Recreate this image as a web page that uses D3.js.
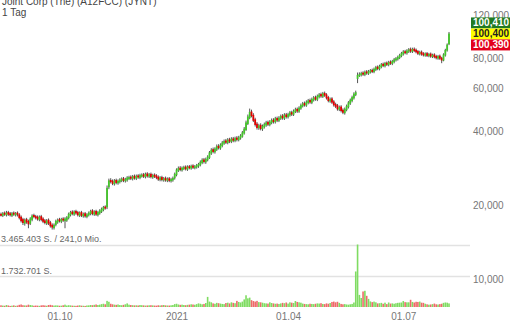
<!DOCTYPE html>
<html>
<head>
<meta charset="utf-8">
<script src="https://cdn.jsdelivr.net/npm/d3@7"></script>
<style>
  body { margin: 0; background: #fff; }
  svg { display: block; font-family: "Liberation Sans", Arial, sans-serif; }
</style>
</head>
<body>
<script>
// Joint Corp daily candles, 17.08.2020 - 06.08.2021 (one value per trading day)
const titleText = "Joint Corp (The) (A12FCC) (JYNT)";
const periodText = "1 Tag";
const holidays = ["2020-09-07", "2020-11-26", "2020-12-25", "2021-01-01", "2021-01-18",
    "2021-02-15", "2021-04-02", "2021-05-31", "2021-07-05"];

const opens = [
    18.4,18.2,18.6,18.3,18.7,18.5,18.2,18.6,18.3,18.6,
    18.3,17.9,17.5,16.9,17.5,17.2,16.9,17.5,18.2,18.0,
    17.9,17.5,18.0,17.6,17.3,16.9,17.4,17.0,16.6,16.2,
    16.7,17.1,17.5,17.2,17.6,17.3,17.4,17.8,18.3,18.8,
    18.4,18.9,18.7,18.2,18.7,18.1,18.5,18.0,18.3,18.5,
    19.0,18.4,18.9,18.3,18.6,18.9,19.2,19.7,19.7,23.8,
    25.3,25.1,24.5,25.3,24.7,25.0,25.3,25.7,25.2,25.4,
    25.8,26.1,25.7,26.3,25.8,26.4,26.0,26.4,26.7,26.2,
    26.9,26.3,26.8,26.1,26.6,26.4,26.1,25.5,26.0,25.4,
    25.8,25.3,25.7,25.2,25.4,25.9,26.7,27.8,28.4,27.9,
    28.3,28.7,28.1,28.8,28.4,29.0,28.5,28.7,29.0,29.3,
    29.9,30.7,30.1,30.7,31.4,32.7,33.8,33.1,33.9,34.9,
    34.3,35.1,35.9,36.7,36.1,37.1,36.5,37.4,36.8,37.7,
    37.1,37.7,38.3,39.5,40.8,43.2,45.7,48.2,46.7,44.8,
    43.0,41.5,42.5,41.1,41.9,42.6,43.7,42.8,43.6,44.6,
    43.9,45.3,44.5,45.4,46.4,45.4,46.9,46.0,46.8,47.9,
    47.1,48.4,49.4,48.5,49.9,51.0,52.2,51.3,52.6,53.7,
    52.7,54.0,55.2,54.2,55.6,56.8,55.8,57.4,56.6,55.2,
    53.4,54.5,53.0,51.7,51.1,49.4,50.5,49.0,47.8,49.2,
    50.6,52.3,53.6,55.0,56.8,66.0,68.2,68.4,69.5,68.6,
    70.3,69.3,70.2,71.3,70.4,71.8,73.5,72.3,73.8,75.5,
    74.4,76.3,75.2,77.1,76.0,77.3,78.6,79.3,80.4,81.8,
    83.2,85.0,84.0,85.3,86.9,85.2,87.0,86.2,85.1,83.3,
    84.6,83.4,82.2,83.5,81.8,83.1,81.2,82.5,81.3,79.9,
    81.5,80.0,78.4,82.3,86.2,91.5
];
const highs = [
    18.6,18.7,18.8,18.9,18.9,18.7,18.7,18.8,18.7,18.8,
    18.5,18.1,17.7,17.6,17.7,17.4,17.8,18.3,18.4,18.2,
    18.1,18.1,18.2,17.8,17.5,17.5,17.6,17.2,16.8,16.8,
    17.4,17.6,17.7,17.7,17.8,17.8,18.0,18.6,18.9,19.0,
    19.0,19.1,18.9,18.8,18.9,18.6,18.7,18.5,18.8,19.1,
    19.2,19.0,19.1,18.9,19.2,19.5,19.8,19.9,24.0,25.6,
    25.7,25.4,25.5,25.6,25.4,25.7,25.9,26.0,25.8,26.2,
    26.3,26.4,26.5,26.6,26.6,26.7,26.8,26.9,27.0,27.1,
    27.2,27.0,27.1,26.8,26.9,26.7,26.4,26.2,26.3,26.0,
    26.1,25.9,26.0,25.8,26.1,27.1,28.2,28.7,28.8,28.7,
    28.9,29.0,29.0,29.1,29.2,29.3,29.1,29.4,29.7,30.4,
    31.0,31.1,31.2,31.9,33.2,34.1,34.3,34.4,35.3,35.4,
    35.7,36.5,37.0,37.2,37.5,37.6,37.8,37.9,38.0,38.2,
    38.3,38.9,40.1,41.6,44.2,46.8,49.5,49.0,47.4,45.4,
    43.6,42.9,43.1,42.6,43.4,44.1,44.2,44.4,45.1,45.2,
    45.8,45.9,46.1,46.8,47.0,47.4,47.5,47.6,48.4,48.5,
    49.1,49.9,50.0,50.6,51.9,52.7,52.9,53.5,54.2,54.4,
    54.9,55.7,55.9,56.5,57.3,57.5,57.9,58.1,57.2,55.8,
    54.9,55.1,53.6,52.3,51.7,50.9,51.1,49.6,50.0,51.4,
    53.1,54.4,55.9,57.7,58.6,69.5,69.6,70.0,70.3,70.8,
    71.1,71.2,71.8,72.1,72.8,74.0,74.3,74.8,76.0,76.3,
    76.8,77.1,77.6,77.9,78.3,79.7,80.4,81.5,82.9,84.4,
    85.8,86.0,86.6,87.5,87.9,87.8,88.0,87.1,85.9,85.3,
    85.5,84.2,84.0,84.3,83.6,83.9,83.0,83.3,82.1,82.0,
    82.3,80.6,83.3,86.9,91.4,101.8
];
const lows = [
    18.1,18.0,18.2,18.1,18.2,18.1,18.0,18.2,18.1,18.1,
    17.6,17.1,16.7,16.6,16.9,16.2,16.7,17.3,17.8,17.6,
    17.4,17.3,17.3,17.0,16.8,16.7,16.7,16.3,16.0,16.0,
    16.5,16.9,17.1,17.0,17.2,16.2,17.2,17.6,18.1,18.3,
    18.2,18.4,18.1,18.0,18.0,17.9,17.9,17.8,18.1,18.3,
    18.3,18.2,18.2,18.1,18.4,18.7,19.0,19.3,19.4,23.4,
    24.7,24.3,24.2,24.5,24.4,24.7,25.0,25.0,24.9,25.1,
    25.5,25.5,25.4,25.6,25.5,25.8,25.7,26.1,26.0,25.9,
    26.1,26.0,25.9,25.8,26.0,25.7,25.3,25.2,25.2,25.1,
    25.1,25.0,25.0,24.9,25.1,25.6,26.4,27.5,27.7,27.6,
    28.0,27.9,27.8,28.2,28.1,28.3,28.2,28.4,28.6,29.0,
    29.6,29.8,29.7,30.4,31.1,32.3,32.8,32.7,33.5,34.0,
    33.9,34.7,35.5,35.8,35.7,36.1,36.1,36.4,36.4,36.7,
    36.7,37.3,38.0,39.1,40.5,42.8,45.2,46.0,44.0,42.2,
    41.0,40.9,40.7,40.5,41.4,42.1,42.4,42.3,43.1,43.4,
    43.4,44.0,44.0,44.9,45.0,44.9,45.5,45.5,46.3,46.6,
    46.6,47.9,48.0,48.0,49.4,50.5,50.9,50.8,52.0,52.3,
    52.1,53.4,53.8,53.6,55.0,55.3,55.2,55.8,54.4,53.0,
    52.8,52.2,50.9,50.2,49.0,48.8,48.2,47.4,47.2,48.7,
    50.0,51.7,53.0,54.4,56.2,63.5,67.3,67.6,68.0,67.8,
    68.7,68.6,69.5,69.8,69.7,71.1,71.7,71.6,73.0,73.8,
    73.6,74.6,74.4,75.4,75.2,76.5,77.8,78.5,79.6,81.0,
    82.3,83.3,83.0,84.3,84.4,84.3,85.0,84.0,82.7,82.4,
    82.2,81.6,81.4,81.2,81.0,80.6,80.4,80.2,79.4,79.1,
    79.0,76.6,78.0,81.5,85.4,90.8
];
const closes = [
    18.3,18.5,18.4,18.6,18.4,18.3,18.5,18.4,18.5,18.4,
    17.8,17.3,17.0,17.4,17.1,16.8,17.6,18.1,18.0,17.8,
    17.6,17.9,17.5,17.2,17.0,17.3,16.9,16.5,16.3,16.6,
    17.2,17.4,17.3,17.5,17.4,17.6,17.8,18.4,18.7,18.5,
    18.8,18.6,18.3,18.6,18.2,18.4,18.1,18.3,18.6,18.9,
    18.5,18.8,18.4,18.7,19.0,19.3,19.6,19.5,23.5,25.2,
    25.0,24.6,25.2,24.8,25.1,25.4,25.6,25.3,25.5,25.9,
    26.0,25.8,26.2,25.9,26.3,26.1,26.5,26.6,26.3,26.8,
    26.4,26.7,26.2,26.5,26.3,26.0,25.6,25.9,25.5,25.7,
    25.4,25.6,25.3,25.5,25.8,26.8,27.9,28.3,28.0,28.4,
    28.6,28.2,28.7,28.5,28.9,28.6,28.8,29.1,29.4,30.0,
    30.6,30.2,30.8,31.5,32.8,33.6,33.2,34.0,34.8,34.4,
    35.2,36.0,36.5,36.2,37.0,36.6,37.3,36.9,37.5,37.2,
    37.8,38.4,39.6,41.0,43.5,46.0,48.0,46.5,44.5,42.8,
    41.6,42.3,41.2,42.0,42.8,43.5,42.9,43.8,44.5,44.0,
    45.2,44.6,45.5,46.2,45.6,46.8,46.1,47.0,47.8,47.2,
    48.5,49.2,48.6,50.0,51.2,52.0,51.5,52.8,53.5,52.9,
    54.2,55.0,54.4,55.8,56.6,56.0,57.2,56.4,55.0,53.6,
    54.2,52.8,51.5,50.8,49.6,50.2,48.8,48.0,49.4,50.8,
    52.5,53.8,55.2,57.0,57.8,68.0,68.5,69.2,68.8,70.0,
    69.5,70.4,71.0,70.6,72.0,73.2,72.5,74.0,75.2,74.6,
    76.0,75.4,76.8,76.2,77.5,78.8,79.5,80.6,82.0,83.5,
    84.8,84.2,85.6,86.5,85.4,86.8,85.9,84.8,83.6,84.4,
    83.0,82.4,83.2,82.0,82.8,81.4,82.2,81.0,80.2,81.2,
    79.8,78.5,82.5,86.0,90.5,100.4
];
// volume in thousand shares
const volumes = [
    95,80,70,110,85,60,75,90,65,80,
    120,140,100,90,85,130,110,95,70,80,
    75,65,90,100,85,70,110,120,95,80,
    90,85,70,75,95,130,80,100,90,75,
    70,65,80,95,75,70,60,85,90,110,
    100,120,140,110,130,160,180,150,340,290,
    180,150,130,120,140,110,100,120,150,200,
    130,110,100,90,95,85,110,100,90,80,
    85,95,100,90,80,75,95,85,100,110,
    90,85,80,95,110,160,180,140,120,130,
    110,100,120,130,150,140,125,160,200,180,
    150,170,220,560,300,260,200,180,230,210,
    190,170,160,220,240,200,260,230,210,340,
    280,250,300,420,650,480,520,380,330,300,
    340,270,260,240,210,200,190,260,220,200,
    180,190,170,200,230,210,250,190,260,240,
    220,330,280,260,240,190,170,160,150,180,
    170,160,180,200,190,210,170,160,200,180,
    220,280,300,260,290,230,170,150,160,140,
    130,150,170,250,1970,3465.403,670,500,860,900,
    620,450,310,270,300,260,200,210,230,180,
    240,160,250,190,200,180,210,230,240,250,
    330,270,260,260,400,280,250,290,280,300,
    240,230,180,150,130,140,160,190,150,140,
    160,180,230,250,240,200
];
const volumeTop = 3465403;
const turnoverText = "241,0 Mio.";

const priceTicks = [10, 20, 40, 60, 80, 120];
const quoteValues = [100.41, 100.40, 100.39];
const quoteFills = ["#217a21", "#ffff00", "#e3001b"];
const quoteText = ["#ffffff", "#222222", "#ffffff"];

// build the trading calendar
const parse = d3.utcParse("%Y-%m-%d");
const holidaySet = new Set(holidays);
const dates = d3.utcDays(parse("2020-08-17"), d3.utcDay.offset(parse("2021-08-06"), 1))
    .filter(d => d.getUTCDay() !== 0 && d.getUTCDay() !== 6 && !holidaySet.has(d3.utcFormat("%Y-%m-%d")(d)));

const data = dates.map((d, i) => ({
    date: d, open: opens[i], high: highs[i], low: lows[i], close: closes[i], volume: volumes[i] * 1000
}));

const de = d3.formatLocale({ decimal: ",", thousands: ".", grouping: [3], currency: ["", " €"] });
const priceFmt = de.format(".3f");
const intFmt = de.format(",d");

const width = 510, height = 320;

const svg = d3.select("body").append("svg")
    .attr("width", width)
    .attr("height", height);

const xScale = d3.scaleLinear()
    .domain([0, data.length - 1])
    .range([1, 449]);

const yScale = d3.scaleLog()
    .domain([10, 120])
    .range([279, 15]);

const volScale = d3.scaleLinear()
    .domain([0, volumeTop])
    .range([307, 244.5]);

const green = "#44c62a", red = "#e10000";
const volGreen = "#7fdc62", volRed = "#ee6a6a";

// header
svg.append("text").attr("x", 2).attr("y", 5)
    .attr("font-size", 10).attr("fill", "#444").text(titleText);
svg.append("text").attr("x", 2).attr("y", 15.5)
    .attr("font-size", 10).attr("fill", "#444").text(periodText);

// volume grid lines
[volumeTop, volumeTop / 2].forEach(v => {
    svg.append("line")
        .attr("x1", 0).attr("x2", 470)
        .attr("y1", Math.round(volScale(v)) + 0.5).attr("y2", Math.round(volScale(v)) + 0.5)
        .attr("stroke", "#e2e2e2").attr("stroke-width", 1.5);
});
svg.append("text").attr("x", 1).attr("y", volScale(volumeTop) - 2.5)
    .attr("font-size", 9).attr("fill", "#666")
    .text(`${intFmt(volumeTop)} S. / ${turnoverText}`);
svg.append("text").attr("x", 1).attr("y", volScale(volumeTop / 2) - 2)
    .attr("font-size", 9).attr("fill", "#666")
    .text(`${intFmt(Math.floor(volumeTop / 2))} S.`);

// volume bars
svg.append("g").selectAll("rect")
    .data(data)
    .join("rect")
    .attr("x", (d, i) => xScale(i) - 0.8)
    .attr("width", 1.6)
    .attr("y", d => volScale(d.volume))
    .attr("height", d => volScale(0) - volScale(d.volume))
    .attr("fill", d => d.close >= d.open ? volGreen : volRed);

// candles
const candles = svg.append("g");
candles.selectAll("line")
    .data(data)
    .join("line")
    .attr("x1", (d, i) => xScale(i))
    .attr("x2", (d, i) => xScale(i))
    .attr("y1", d => yScale(d.high) - 0.5)
    .attr("y2", d => yScale(d.low) + 0.5)
    .attr("stroke", "#555")
    .attr("stroke-width", 1);
candles.selectAll("rect")
    .data(data)
    .join("rect")
    .attr("x", (d, i) => xScale(i) - 0.9)
    .attr("width", 1.8)
    .attr("y", d => yScale(Math.max(d.open, d.close)) - 0.4)
    .attr("height", d => Math.max(2, Math.abs(yScale(d.open) - yScale(d.close)) + 0.8))
    .attr("fill", d => d.close >= d.open ? green : red);

// price axis
const yAxis = svg.append("g")
    .attr("transform", "translate(471,0)")
    .call(d3.axisRight(yScale).tickValues(priceTicks).tickSize(0).tickPadding(2).tickFormat(priceFmt));
yAxis.select(".domain").remove();
yAxis.selectAll("text").attr("font-size", 10).attr("fill", "#777").attr("font-family", null);

// x axis
const tickIdx = [];
data.forEach((d, i) => {
    if (i > 0 && d.date.getUTCMonth() !== data[i - 1].date.getUTCMonth() && d.date.getUTCMonth() % 3 === 0) tickIdx.push(i);
});
const xAxis = svg.append("g")
    .attr("transform", "translate(0,307)")
    .call(d3.axisBottom(xScale).tickValues(tickIdx).tickSize(0).tickPadding(6)
        .tickFormat(i => {
            const d = data[i].date;
            return d.getUTCMonth() === 0 ? d3.utcFormat("%Y")(d) : "01." + d3.utcFormat("%m")(d);
        }));
xAxis.select(".domain").remove();
xAxis.selectAll("text").attr("font-size", 10).attr("fill", "#777").attr("font-family", null);

// last quote boxes
const lastY = yScale(quoteValues[1]);
quoteValues.forEach((v, k) => {
    const top = lastY - 5.5 + (k - 1) * 11;
    svg.append("rect")
        .attr("x", 471).attr("y", top).attr("width", 40).attr("height", 11)
        .attr("fill", quoteFills[k]);
    svg.append("text")
        .attr("x", 473).attr("y", top + 9)
        .attr("font-size", 10).attr("font-weight", "bold")
        .attr("fill", quoteText[k]).text(priceFmt(v));
});
</script>
</body>
</html>
